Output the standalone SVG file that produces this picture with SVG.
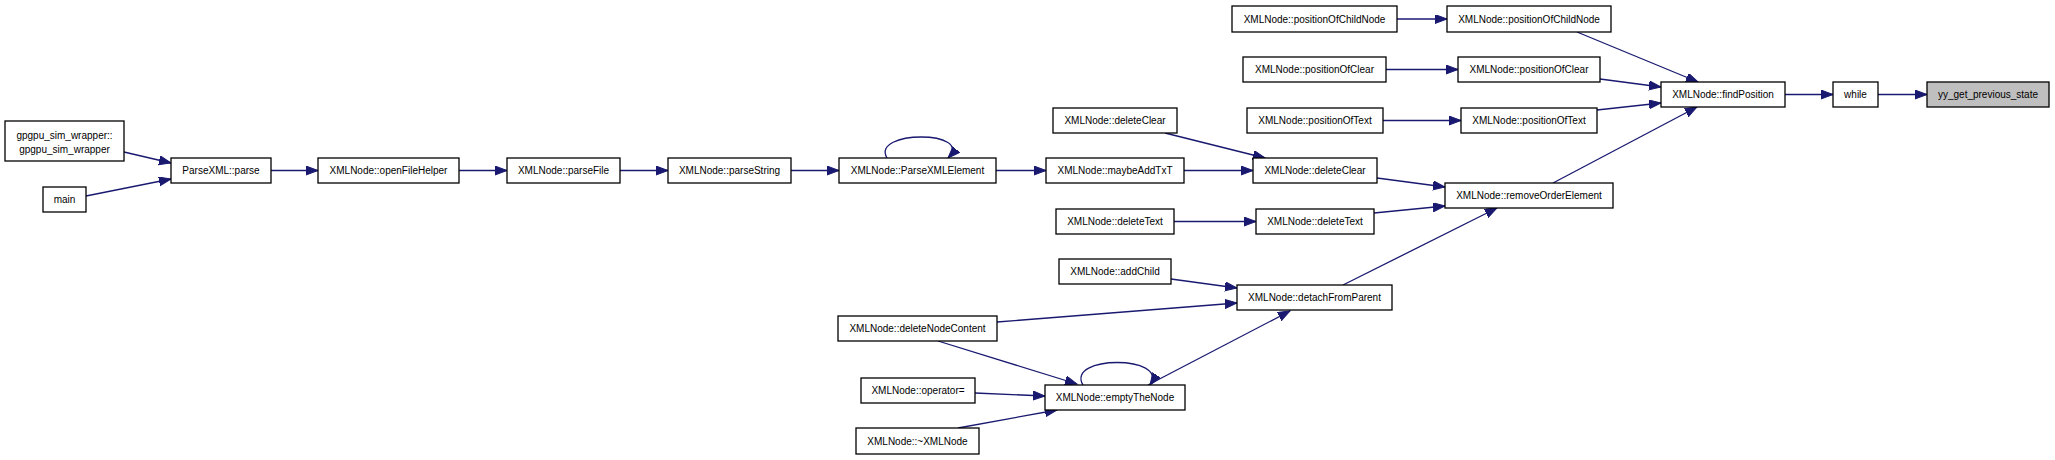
<svg xmlns="http://www.w3.org/2000/svg" width="2055" height="460" viewBox="0 0 2055 460">
<style>
.n rect{fill:#ffffff;stroke:#000000;stroke-width:1.3}
.n.h rect{fill:#bfbfbf}
.n text{font-family:"Liberation Sans",Arial,sans-serif;font-size:10px;fill:#000000;text-anchor:middle}
.e path{fill:none;stroke:#191970;stroke-width:1.3;marker-end:url(#ah)}
</style>
<defs>
<marker id="ah" markerUnits="userSpaceOnUse" markerWidth="13" markerHeight="10" refX="12" refY="4.5" orient="auto">
<path d="M0,0 L12,4.5 L0,9 Z" fill="#191970" stroke="#191970" stroke-width="1"/>
</marker>
</defs>
<rect width="2055" height="460" fill="#ffffff"/>
<g id="connectors" class="e">
<path d="M124,152 L171,163"/>
<path d="M86,196 L171,179"/>
<path d="M271,170.5 L318,170.5"/>
<path d="M459,170.5 L507,170.5"/>
<path d="M620,170.5 L668,170.5"/>
<path d="M791,170.5 L839,170.5"/>
<path d="M887,158 C870,130 975,130 948,158"/>
<path d="M996,170.5 L1046,170.5"/>
<path d="M1184,170.5 L1253,170.5"/>
<path d="M1165,133 L1265,158"/>
<path d="M1397,19 L1447,19"/>
<path d="M1386,69.5 L1458,69.5"/>
<path d="M1383,120.5 L1461,120.5"/>
<path d="M1174,221.5 L1256,221.5"/>
<path d="M1377,178 L1445,187"/>
<path d="M1374,213 L1445,206"/>
<path d="M1343,285 L1497,208"/>
<path d="M1577,32 L1698,82"/>
<path d="M1600,79 L1661,87"/>
<path d="M1597,110 L1661,103"/>
<path d="M1553,183 L1697,107"/>
<path d="M1785,94.5 L1833,94.5"/>
<path d="M1878,94.5 L1927,94.5"/>
<path d="M1171,279 L1237,288"/>
<path d="M997,322 L1237,303"/>
<path d="M938,341 L1077,384"/>
<path d="M975,393 L1045,396"/>
<path d="M958,428 L1057,410"/>
<path d="M1083,385 C1065,355 1170,355 1150,385"/>
<path d="M1148,385 L1290,311"/>
</g>
<g id="n_gpgpu" class="n"><rect x="5" y="121" width="119" height="40"/><text x="64.5" y="138.5">gpgpu_sim_wrapper::</text><text x="64.5" y="152.5">gpgpu_sim_wrapper</text></g>
<g id="n_main" class="n"><rect x="43" y="187" width="43" height="25"/><text x="64.5" y="203">main</text></g>
<g id="n_parse" class="n"><rect x="171" y="158" width="100" height="25"/><text x="221" y="174">ParseXML::parse</text></g>
<g id="n_openFileHelper" class="n"><rect x="318" y="158" width="141" height="25"/><text x="388.5" y="174">XMLNode::openFileHelper</text></g>
<g id="n_parseFile" class="n"><rect x="507" y="158" width="113" height="25"/><text x="563.5" y="174">XMLNode::parseFile</text></g>
<g id="n_parseString" class="n"><rect x="668" y="158" width="123" height="25"/><text x="729.5" y="174">XMLNode::parseString</text></g>
<g id="n_ParseXMLElement" class="n"><rect x="839" y="158" width="157" height="25"/><text x="917.5" y="174">XMLNode::ParseXMLElement</text></g>
<g id="n_maybeAddTxT" class="n"><rect x="1046" y="158" width="138" height="25"/><text x="1115" y="174">XMLNode::maybeAddTxT</text></g>
<g id="n_deleteClear_a" class="n"><rect x="1053" y="108" width="124" height="25"/><text x="1115" y="124">XMLNode::deleteClear</text></g>
<g id="n_deleteClear_b" class="n"><rect x="1253" y="158" width="124" height="25"/><text x="1315" y="174">XMLNode::deleteClear</text></g>
<g id="n_deleteText_a" class="n"><rect x="1056" y="209" width="118" height="25"/><text x="1115" y="225">XMLNode::deleteText</text></g>
<g id="n_deleteText_b" class="n"><rect x="1256" y="209" width="118" height="25"/><text x="1315" y="225">XMLNode::deleteText</text></g>
<g id="n_posChild_a" class="n"><rect x="1232" y="6" width="165" height="26"/><text x="1314.5" y="22.5">XMLNode::positionOfChildNode</text></g>
<g id="n_posChild_b" class="n"><rect x="1447" y="6" width="164" height="26"/><text x="1529" y="22.5">XMLNode::positionOfChildNode</text></g>
<g id="n_posClear_a" class="n"><rect x="1243" y="57" width="143" height="25"/><text x="1314.5" y="73">XMLNode::positionOfClear</text></g>
<g id="n_posClear_b" class="n"><rect x="1458" y="57" width="142" height="25"/><text x="1529" y="73">XMLNode::positionOfClear</text></g>
<g id="n_posText_a" class="n"><rect x="1247" y="108" width="136" height="25"/><text x="1315" y="124">XMLNode::positionOfText</text></g>
<g id="n_posText_b" class="n"><rect x="1461" y="108" width="136" height="25"/><text x="1529" y="124">XMLNode::positionOfText</text></g>
<g id="n_removeOrderElement" class="n"><rect x="1445" y="183" width="168" height="25"/><text x="1529" y="199">XMLNode::removeOrderElement</text></g>
<g id="n_findPosition" class="n"><rect x="1661" y="82" width="124" height="25"/><text x="1723" y="98">XMLNode::findPosition</text></g>
<g id="n_while" class="n"><rect x="1833" y="82" width="45" height="25"/><text x="1855.5" y="98">while</text></g>
<g id="n_yy" class="n h"><rect x="1927" y="82" width="122" height="25"/><text x="1988" y="98">yy_get_previous_state</text></g>
<g id="n_addChild" class="n"><rect x="1059" y="259" width="112" height="25"/><text x="1115" y="275">XMLNode::addChild</text></g>
<g id="n_detachFromParent" class="n"><rect x="1237" y="285" width="155" height="25"/><text x="1314.5" y="301">XMLNode::detachFromParent</text></g>
<g id="n_deleteNodeContent" class="n"><rect x="838" y="316" width="159" height="25"/><text x="917.5" y="332">XMLNode::deleteNodeContent</text></g>
<g id="n_operator" class="n"><rect x="861" y="378" width="114" height="25"/><text x="918" y="394">XMLNode::operator=</text></g>
<g id="n_emptyTheNode" class="n"><rect x="1045" y="385" width="140" height="25"/><text x="1115" y="401">XMLNode::emptyTheNode</text></g>
<g id="n_dtor" class="n"><rect x="856" y="428" width="123" height="26"/><text x="917.5" y="444.5">XMLNode::~XMLNode</text></g>
</svg>
